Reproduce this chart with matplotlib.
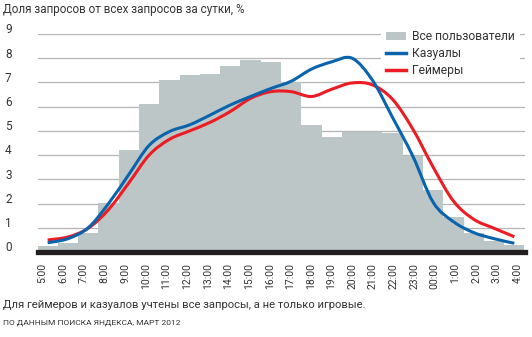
import matplotlib
matplotlib.use("Agg")
import matplotlib.pyplot as plt
import numpy as np
from matplotlib.path import Path
from matplotlib.patches import PathPatch, Patch
from matplotlib.lines import Line2D

plt.rcParams['font.family'] = ['Roboto', 'DejaVu Sans']

# Hours of the day, starting at 5:00
hours = ["5:00", "6:00", "7:00", "8:00", "9:00", "10:00", "11:00", "12:00",
         "13:00", "14:00", "15:00", "16:00", "17:00", "18:00", "19:00", "20:00",
         "21:00", "22:00", "23:00", "00:00", "1:00", "2:00", "3:00", "4:00"]

# Share of all daily queries, %
all_users = [0.25, 0.37, 0.8, 2.03, 4.2, 6.1, 7.1, 7.3, 7.35, 7.68, 7.93, 7.83,
             7.03, 5.24, 4.75, 4.97, 4.97, 4.93, 3.96, 2.55, 1.43, 0.77, 0.46, 0.28]
casuals = [0.38, 0.55, 1.0, 2.0, 3.2, 4.4, 4.97, 5.25, 5.65, 6.07, 6.42, 6.75,
           7.05, 7.55, 7.85, 8.0, 7.1, 5.55, 3.95, 2.05, 1.25, 0.8, 0.55, 0.36]
gamers = [0.5, 0.62, 0.98, 1.75, 2.85, 4.0, 4.65, 5.0, 5.35, 5.8, 6.34, 6.62,
          6.62, 6.42, 6.72, 6.98, 6.9, 6.3, 5.07, 3.5, 2.1, 1.35, 0.98, 0.63]

gray = "#bcc6c7"
blue = "#0a64ad"
red = "#ec1c24"
text_c = "#333333"


# Smooth curve through points (Catmull-Rom as cubic Bezier)
def smooth_path(xs, ys):
    pts = np.column_stack([xs, ys])
    verts = [pts[0]]
    codes = [Path.MOVETO]
    n = len(pts)
    for i in range(n - 1):
        p0 = pts[max(i - 1, 0)]
        p1 = pts[i]
        p2 = pts[i + 1]
        p3 = pts[min(i + 2, n - 1)]
        verts += [p1 + (p2 - p0) / 6, p2 - (p3 - p1) / 6, p2]
        codes += [Path.CURVE4] * 3
    return Path(verts, codes)


fig = plt.figure(figsize=(5.32, 3.37), dpi=100)
ax = fig.add_axes([37.5 / 532, (337 - 252) / 337, 487 / 532, 218 / 337])

x = np.arange(len(hours))
ax.bar(x, all_users, width=1.0, align="edge", color=gray, zorder=2)

centers = x + 0.5
for vals, col in [(gamers, red), (casuals, blue)]:
    ax.add_patch(PathPatch(smooth_path(centers, vals), fill=False,
                           edgecolor=col, lw=2.2, zorder=3, capstyle="butt"))

ax.set_xlim(0, 24)
ax.set_ylim(0, 9)
ax.set_yticks(range(0, 10))
ax.yaxis.grid(True, color="#b5b5b5", lw=0.9, zorder=0)
ax.set_axisbelow(True)
ax.axhline(0, color="#231f20", lw=3.8, zorder=4, clip_on=False)
for s in ax.spines.values():
    s.set_visible(False)
ax.tick_params(length=0)

ax.set_yticklabels([])
for v in range(10):
    ax.text(-32.5 / 20.3, v + 0.17, str(v), fontsize=8.5, color=text_c,
            ha="left", va="center")

ax.set_xticks(0.25 + np.arange(24) * (23.4 / 23))
ax.set_xticklabels(hours, rotation=90, fontsize=7.5, color=text_c, va="top")
ax.tick_params(axis="x", pad=8)

handles = [Patch(facecolor=gray, edgecolor="none"),
           Line2D([], [], color=blue, lw=2.5),
           Line2D([], [], color=red, lw=2.5)]
leg = ax.legend(handles, ["Все пользователи", "Казуалы", "Геймеры"],
                loc="upper left", bbox_to_anchor=(0.705, 1.04), fontsize=8.7,
                frameon=True, fancybox=False, handlelength=1.7,
                handleheight=0.6, handletextpad=0.5, labelspacing=0.32,
                borderpad=0.4, borderaxespad=0)
leg.get_frame().set_facecolor("white")
leg.get_frame().set_edgecolor("none")
leg.get_frame().set_alpha(1)
leg.set_zorder(5)
for t in leg.get_texts():
    t.set_color(text_c)

fig.text(3 / 532, 1 - 10 / 337, "Доля запросов от всех запросов за сутки, %",
         fontsize=8.4, color=text_c, ha="left", va="center")
fig.text(3 / 532, 1 - 305 / 337,
         "Для геймеров и казуалов учтены все запросы, а не только игровые.",
         fontsize=8.1, color=text_c, ha="left", va="center")
fig.text(3 / 532, 1 - 323 / 337, "ПО ДАННЫМ ПОИСКА ЯНДЕКСА, МАРТ 2012",
         fontsize=6.0, color=text_c, ha="left", va="center")

fig.savefig("out.png", dpi=100)
